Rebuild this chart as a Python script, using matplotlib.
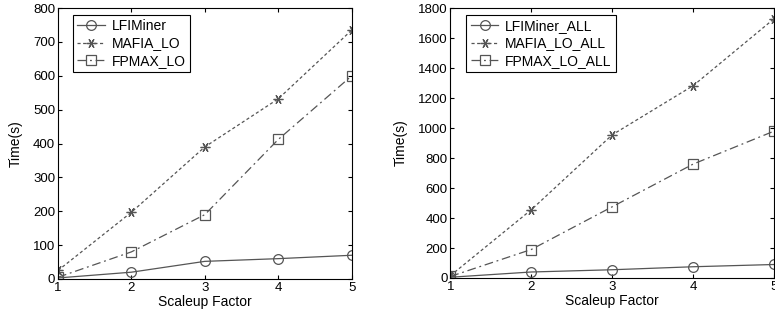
import matplotlib
matplotlib.use("Agg")
import matplotlib.pyplot as plt

plt.rcParams['font.family'] = ['Liberation Sans', 'DejaVu Sans']
plt.rcParams['font.size'] = 9

scaleup = [1, 2, 3, 4, 5]

# left panel
lfi = [3, 20, 52, 60, 70]
mafia = [25, 197, 390, 532, 735]
fpmax = [5, 80, 190, 412, 600]

# right panel
lfi_all = [5, 40, 55, 75, 90]
mafia_all = [15, 455, 955, 1283, 1730]
fpmax_all = [10, 190, 475, 760, 980]

left_names = ['LFIMiner', 'MAFIA_LO', 'FPMAX_LO']
right_names = ['LFIMiner_ALL', 'MAFIA_LO_ALL', 'FPMAX_LO_ALL']

fig = plt.figure(figsize=(7.75, 3.24), dpi=100)
ax1 = fig.add_axes([0.0748, 0.139, 0.379, 0.836])
ax2 = fig.add_axes([0.581, 0.142, 0.418, 0.833])

col = '#555555'


def draw(ax, series, names, ymax, step):
    styles = [('-', 'o', 7), ((0, (2.5, 2)), (6, 2, 90), 7), ((0, (7, 3, 1.5, 3)), 's', 7)]
    for ys, nm, (ls, mk, ms) in zip(series, names, styles):
        ax.plot(scaleup, ys, linestyle=ls, marker=mk, color=col, lw=0.9,
                markersize=ms, markerfacecolor='none',
                markeredgecolor=col, markeredgewidth=0.9, label=nm)
    ax.set_xlim(1, 5)
    ax.set_ylim(0, ymax)
    ax.set_xticks(scaleup)
    ax.set_yticks(range(0, ymax + 1, step))
    ax.tick_params(direction='in', top=True, right=True, length=3, labelsize=9.5, pad=2)
    ax.set_xlabel('Scaleup Factor', fontsize=10, labelpad=1)
    ax.set_ylabel('Time(s)', fontsize=10, labelpad=7)
    for s in ax.spines.values():
        s.set_linewidth(0.8)
    leg = ax.legend(loc='upper left', bbox_to_anchor=(0.05, 0.975), fontsize=10,
                    fancybox=False, edgecolor='black', framealpha=1,
                    handlelength=2.0, borderpad=0.3, labelspacing=0.25,
                    handletextpad=0.5, borderaxespad=0)
    leg.get_frame().set_linewidth(0.8)


draw(ax1, [lfi, mafia, fpmax], left_names, 800, 100)
draw(ax2, [lfi_all, mafia_all, fpmax_all], right_names, 1800, 200)

fig.savefig('out.png', dpi=100)
